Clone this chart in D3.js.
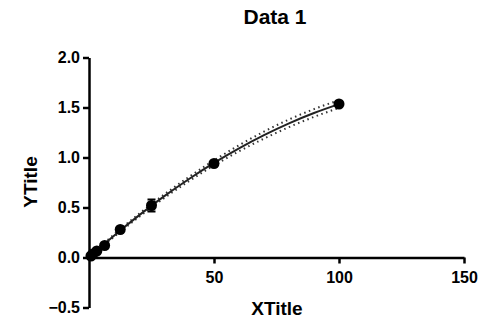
<meta charset="utf-8">
<head>
    <script src="https://cdn.jsdelivr.net/npm/d3@7/dist/d3.min.js"></script>
    <style>
        body { margin: 0; background: #fff; }
        text { font-family: "Liberation Sans", Arial, sans-serif; font-weight: bold; fill: #000; }
    </style>
</head>
<body>
    <svg width=492 height=336></svg>
</body>
<script>
    // measured points
    let xValues = [0.78, 1.56, 3.125, 6.25, 12.5, 25, 50, 100];
    let yValues = [0.015, 0.035, 0.065, 0.12, 0.28, 0.52, 0.94, 1.535];
    let yErrors = [0, 0, 0, 0, 0.01, 0.06, 0.01, 0.01];

    // fitted curve and confidence band
    let fitX = [0, 10, 20, 30, 40, 50, 60, 70, 80, 90, 100];
    let fitY = [0, 0.218, 0.421, 0.611, 0.785, 0.946, 1.092, 1.224, 1.342, 1.445, 1.534];
    let bandHalf = [0.008, 0.012, 0.015, 0.018, 0.021, 0.025, 0.03, 0.035, 0.038, 0.039, 0.038];

    let xTicks = [50, 100, 150];
    let yTicks = [-0.5, 0, 0.5, 1.0, 1.5, 2.0];

    let svg = d3.select('svg');

    let x = d3.scaleLinear().domain([0, 150]).range([89, 464]);
    let y = d3.scaleLinear().domain([-0.5, 2.0]).range([307.5, 57.5]);

    // axes
    let xAxis = d3.axisBottom(x).tickValues(xTicks).tickSize(6).tickSizeOuter(0)
        .tickFormat(d3.format('d'));
    let yAxis = d3.axisLeft(y).tickValues(yTicks).tickSize(6).tickSizeOuter(0)
        .tickFormat(d3.format('.1f'));

    let gx = svg.append('g')
        .attr('transform', `translate(0, ${y(0)})`)
        .call(xAxis);
    let gy = svg.append('g')
        .attr('transform', `translate(${x(0)}, 0)`)
        .call(yAxis);

    [gx, gy].forEach(function (g) {
        g.select('.domain').attr('stroke', '#000').attr('stroke-width', 2.5);
        g.selectAll('.tick line').attr('stroke', '#000').attr('stroke-width', 2.5);
        g.selectAll('.tick text')
            .attr('font-family', '"Liberation Sans", Arial, sans-serif')
            .attr('font-weight', 'bold')
            .attr('font-size', 16)
            .attr('fill', '#000');
    });
    gx.selectAll('.tick text').attr('y', 14).attr('dy', '0.71em');
    gy.selectAll('.tick text').attr('x', -9);

    // confidence band (dotted)
    let fit = fitX.map(function (d, i) {
        return { x: d, y: fitY[i], lo: fitY[i] - bandHalf[i], hi: fitY[i] + bandHalf[i] };
    });

    let curve = d3.curveMonotoneX;
    ['lo', 'hi'].forEach(function (k) {
        svg.append('path')
            .datum(fit)
            .attr('fill', 'none')
            .attr('stroke', '#333')
            .attr('stroke-width', 2)
            .attr('stroke-dasharray', '1.5,3.5')
            .attr('d', d3.line().curve(curve)
                .x(function (d) { return x(d.x); })
                .y(function (d) { return y(d[k]); }));
    });

    svg.append('path')
        .datum(fit)
        .attr('fill', 'none')
        .attr('stroke', '#222')
        .attr('stroke-width', 2)
        .attr('d', d3.line().curve(curve)
            .x(function (d) { return x(d.x); })
            .y(function (d) { return y(d.y); }));

    // error bars
    let points = xValues.map(function (d, i) {
        return { x: d, y: yValues[i], e: yErrors[i] };
    });

    let err = svg.append('g').selectAll('g')
        .data(points.filter(function (d) { return d.e > 0.02; }))
        .enter().append('g')
        .attr('stroke', '#000')
        .attr('stroke-width', 2);
    err.append('line')
        .attr('x1', function (d) { return x(d.x); })
        .attr('x2', function (d) { return x(d.x); })
        .attr('y1', function (d) { return y(d.y - d.e); })
        .attr('y2', function (d) { return y(d.y + d.e); });
    [-1, 1].forEach(function (s) {
        err.append('line')
            .attr('x1', function (d) { return x(d.x) - 4; })
            .attr('x2', function (d) { return x(d.x) + 4; })
            .attr('y1', function (d) { return y(d.y + s * d.e); })
            .attr('y2', function (d) { return y(d.y + s * d.e); });
    });

    svg.append('g').selectAll('circle')
        .data(points)
        .enter().append('circle')
        .attr('cx', function (d) { return x(d.x); })
        .attr('cy', function (d) { return y(d.y); })
        .attr('r', 5.5)
        .attr('fill', '#000');

    // titles
    svg.append('text')
        .attr('x', 275).attr('y', 24)
        .attr('text-anchor', 'middle')
        .attr('font-size', 21)
        .text('Data 1');

    svg.append('text')
        .attr('x', 277).attr('y', 315)
        .attr('text-anchor', 'middle')
        .attr('font-size', 19)
        .text('XTitle');

    svg.append('text')
        .attr('transform', 'translate(37, 182) rotate(-90)')
        .attr('text-anchor', 'middle')
        .attr('font-size', 19)
        .text('YTitle');
</script>
